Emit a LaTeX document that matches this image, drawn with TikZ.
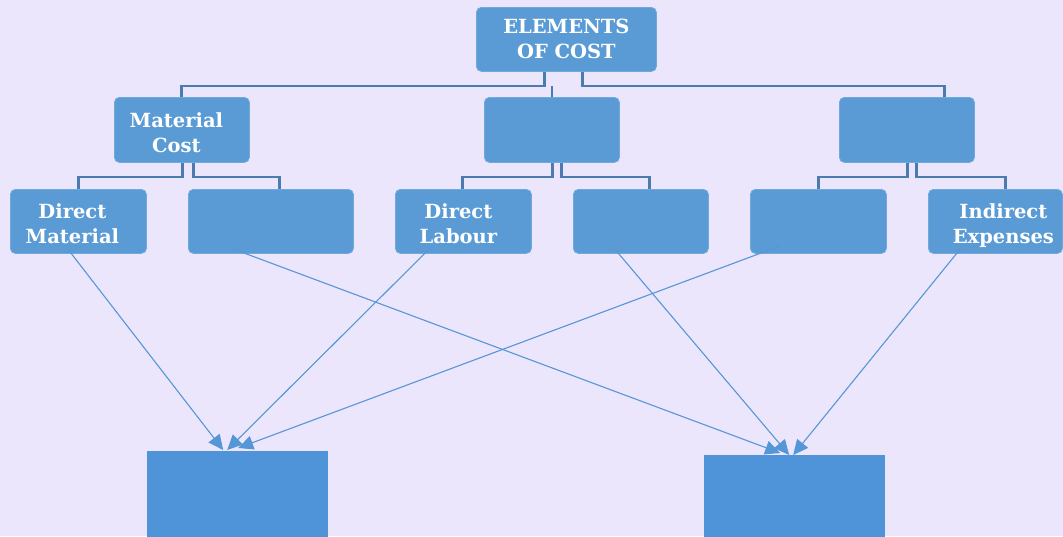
\documentclass[tikz,border=0pt]{standalone}
\usepackage{fontspec}
\setmainfont{DejaVu Serif}
\usetikzlibrary{arrows.meta}
\definecolor{bg}{HTML}{ECE6FD}
\definecolor{boxc}{HTML}{5B9BD5}
\definecolor{boxe}{HTML}{72A9DC}
\definecolor{botc}{HTML}{4F94D8}
\definecolor{connc}{HTML}{4A7DAD}
\definecolor{arrc}{HTML}{5596D6}
\begin{document}
\begin{tikzpicture}[x=1pt,y=-1pt,
  box/.style={draw=boxe, line width=0.8pt, fill=boxc, rounded corners=5pt, inner sep=0pt, anchor=north west},
  bot/.style={fill=botc, inner sep=0pt, anchor=north west, minimum width=181pt, minimum height=95pt},
  txt/.style={text=white, font=\bfseries\fontsize{19.5}{25}\selectfont, align=center, inner sep=0pt},
  conn/.style={draw=connc, line width=2.2pt},
  arr/.style={draw=arrc, line width=1.1pt, -{Triangle[length=15pt,width=14pt]}}]
\useasboundingbox (0,0) rectangle (1063,536);
\fill[bg] (0,0) rectangle (1063,536);
\begin{scope}
\clip (0,0) rectangle (1063,536);
% junction levels
\coordinate (j0) at (0,86);
\coordinate (j1) at (0,177);
% boxes
\node[box, minimum width=180pt, minimum height=64pt,
  label={[txt,yshift=1pt]center:ELEMENTS\\OF COST}] (top) at (476,7) {};
\node[box, minimum width=135pt, minimum height=65pt,
  label={[txt,xshift=-5.5pt,yshift=-2.5pt]center:Material\\Cost}] (mc) at (114,97) {};
\node[box, minimum width=135pt, minimum height=65pt] (mid) at (484,97) {};
\node[box, minimum width=135pt, minimum height=65pt] (rt) at (839,97) {};
\node[box, minimum width=136pt, minimum height=64pt,
  label={[txt,xshift=-6pt,yshift=-2pt]center:Direct\\Material}] (dm) at (10,189) {};
\node[box, minimum width=165pt, minimum height=64pt] (b2) at (188,189) {};
\node[box, minimum width=136pt, minimum height=64pt,
  label={[txt,xshift=-5pt,yshift=-2pt]center:Direct\\Labour}] (dl) at (395,189) {};
\node[box, minimum width=135pt, minimum height=64pt] (b4) at (573,189) {};
\node[box, minimum width=136pt, minimum height=64pt] (b5) at (750,189) {};
\node[box, minimum width=134pt, minimum height=64pt,
  label={[txt,xshift=8pt,yshift=-4.5pt]center:Indirect\\Expenses}] (ie) at (928,189) {};
\node[bot] (bl) at (147,451) {};
\node[bot] (br) at (704,455) {};
% tree connectors
\draw[conn] ([shift={(-22,0)}]top.south) -- ([shift={(-22,0)}]top.south |- j0) -| ([shift={(-0.5,0)}]mc.north);
\draw[conn] ([shift={(16,0)}]top.south) -- ([shift={(16,0)}]top.south |- j0) -| ([shift={(37.5,0)}]rt.north);
\draw[conn] (mid.north) -- (mid.north |- j0);
\draw[conn] ([shift={(0.5,0)}]mc.south) -- ([shift={(0.5,0)}]mc.south |- j1) -| (dm.north);
\draw[conn] ([shift={(11.5,0)}]mc.south) -- ([shift={(11.5,0)}]mc.south |- j1) -| ([shift={(8.5,0)}]b2.north);
\draw[conn] ([shift={(0.5,0)}]mid.south) -- ([shift={(0.5,0)}]mid.south |- j1) -| ([shift={(-1,0)}]dl.north);
\draw[conn] ([shift={(9.5,0)}]mid.south) -- ([shift={(9.5,0)}]mid.south |- j1) -| ([shift={(8.5,0)}]b4.north);
\draw[conn] ([shift={(0.5,0)}]rt.south) -- ([shift={(0.5,0)}]rt.south |- j1) -| (b5.north);
\draw[conn] ([shift={(9.5,0)}]rt.south) -- ([shift={(9.5,0)}]rt.south |- j1) -| ([shift={(10,0)}]ie.north);
% arrows
\draw[arr] ([shift={(-10,-4)}]dm.south) -- ([shift={(-14.5,-1)}]bl.north);
\draw[arr] ([shift={(-35.5,-4)}]b2.south) -- ([shift={(-14.5,-2)}]br.north);
\draw[arr] ([shift={(-33,-6)}]dl.south) -- ([shift={(-10.5,-1)}]bl.north);
\draw[arr] ([shift={(-25.5,-4)}]b4.south) -- ([shift={(-5.5,0)}]br.north);
\draw[arr] ([shift={(-38,-8)}]b5.south) -- ([shift={(0.5,-3)}]bl.north);
\draw[arr] ([shift={(-35,-5)}]ie.south) -- ([shift={(-1.5,0)}]br.north);
\end{scope}
\end{tikzpicture}
\end{document}
